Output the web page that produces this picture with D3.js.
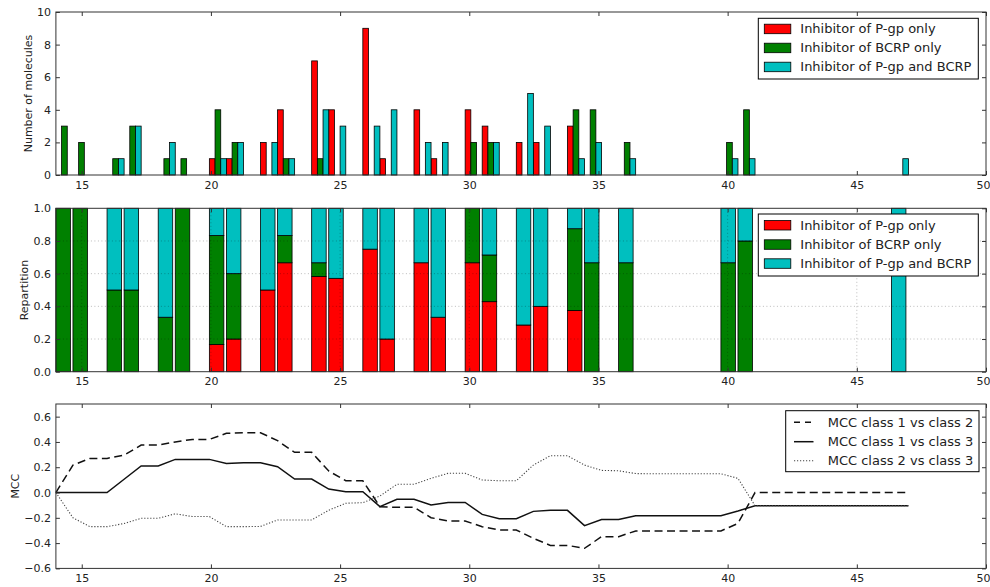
<!DOCTYPE html>
<html>
<head>
<meta charset="utf-8">
<script src="https://cdn.jsdelivr.net/npm/d3@7"></script>
<style>
  body { margin: 0; background: #fff; }
  text { font-family: "DejaVu Sans", sans-serif; fill: #222; }
</style>
</head>
<body>
<svg id="chart" width="990" height="587"></svg>
<script>
// Molecule sizes present in the set and counts per inhibitor class
const sizes      = [14, 15, 16, 17, 18, 19, 20, 21, 22, 23, 24, 25, 26, 27, 28, 29, 30, 31, 32, 33, 34, 35, 36, 40, 41, 47];
const pgpOnly    = [ 0,  0,  0,  0,  0,  0,  1,  1,  2,  4,  7,  4,  9,  1,  4,  1,  4,  3,  2,  2,  3,  0,  0,  0,  0,  0];
const bcrpOnly   = [ 3,  2,  1,  3,  1,  1,  4,  2,  0,  1,  1,  0,  0,  0,  0,  0,  2,  2,  0,  0,  4,  4,  2,  2,  4,  0];
const pgpAndBcrp = [ 0,  0,  1,  3,  2,  0,  1,  2,  2,  1,  4,  3,  3,  4,  2,  2,  0,  2,  5,  3,  1,  2,  1,  1,  1,  1];

const classNames  = ["Inhibitor of P-gp only", "Inhibitor of BCRP only", "Inhibitor of P-gp and BCRP"];
const classColors = ["#ff0000", "#008000", "#00bfbf"];

// Histogram layout: 50 bins spanning the size range
const histMin = 14, histMax = 47, histBins = 50;

// MCC at each bin edge (51 thresholds)
const mcc12 = [0, 0.217, 0.27, 0.27, 0.296, 0.375, 0.375, 0.40, 0.42, 0.42,
  0.468, 0.473, 0.473, 0.41, 0.318, 0.318, 0.17, 0.093, 0.093, -0.112,
  -0.117, -0.117, -0.199, -0.225, -0.225, -0.27, -0.296, -0.296, -0.362, -0.418,
  -0.418, -0.441, -0.349, -0.349, -0.304, -0.304, -0.304, -0.304, -0.304, -0.304,
  -0.244, 0, 0, 0, 0, 0, 0, 0, 0, 0, 0];
const mcc13 = [0, 0, 0, 0, 0.105, 0.21, 0.21, 0.262, 0.262, 0.262,
  0.23, 0.235, 0.236, 0.204, 0.107, 0.107, 0.027, 0.006, 0.006, -0.112,
  -0.054, -0.054, -0.099, -0.078, -0.078, -0.173, -0.207, -0.207, -0.149, -0.141,
  -0.141, -0.262, -0.214, -0.214, -0.183, -0.183, -0.183, -0.183, -0.183, -0.183,
  -0.146, -0.104, -0.104, -0.104, -0.104, -0.104, -0.104, -0.104, -0.104, -0.104, -0.104];
const mcc23 = [0, -0.2, -0.27, -0.27, -0.245, -0.204, -0.204, -0.168, -0.19, -0.19,
  -0.27, -0.27, -0.268, -0.217, -0.217, -0.217, -0.14, -0.085, -0.08, -0.028,
  0.065, 0.065, 0.112, 0.152, 0.152, 0.099, 0.093, 0.093, 0.217, 0.291,
  0.291, 0.217, 0.175, 0.172, 0.15, 0.148, 0.148, 0.148, 0.148, 0.148,
  0.112, -0.104, -0.104, -0.104, -0.104, -0.104, -0.104, -0.104, -0.104, -0.104, -0.104];
const mccNames = ["MCC class 1 vs class 2", "MCC class 1 vs class 3", "MCC class 2 vs class 3"];

const xTicks     = [15, 20, 25, 30, 35, 40, 45, 50];
const countTicks = [0, 2, 4, 6, 8, 10];
const shareTicks = [0, 0.2, 0.4, 0.6, 0.8, 1.0];
const mccTicks   = [-0.6, -0.4, -0.2, 0, 0.2, 0.4, 0.6];

const svg = d3.select("#chart");
const left = 55.9, right = 986;
const x = d3.scaleLinear().domain([14, 50]).range([left, right]);

const binW = (histMax - histMin) / histBins;
const edges = d3.range(histBins + 1).map(i => histMin + i * binW);
const binOf = v => Math.min(histBins - 1, Math.floor((v - histMin) / binW + 1e-9));

const frameColor = "#333";

function panel(top, bottom, domain, ticks, fmt, label, labelX) {
  const y = d3.scaleLinear().domain(domain).range([bottom, top]);
  const g = svg.append("g");
  const plot = g.append("g");
  const over = g.append("g");
  const axes = g.append("g");

  const addAxis = (axis, tx, ty) => {
    const a = axes.append("g").attr("transform", `translate(${tx},${ty})`).call(axis);
    a.select(".domain").remove();
    a.selectAll(".tick line").attr("stroke", frameColor);
    a.selectAll("text").style("font-size", "11px").attr("fill", "#222");
    return a;
  };
  const bx = addAxis(d3.axisBottom(x).tickValues(xTicks).tickSize(-4).tickPadding(6).tickFormat(d3.format("d")), 0, bottom);
  // keep the last label inside the canvas edge
  bx.selectAll(".tick text").filter(d => d === 50).attr("dx", -3);
  addAxis(d3.axisTop(x).tickValues(xTicks).tickSize(-4).tickFormat(""), 0, top);
  addAxis(d3.axisLeft(y).tickValues(ticks).tickSize(-4).tickPadding(5).tickFormat(fmt), left, 0);
  addAxis(d3.axisRight(y).tickValues(ticks).tickSize(-4).tickFormat(""), right, 0);

  axes.append("rect")
    .attr("x", left).attr("y", top)
    .attr("width", right - left).attr("height", bottom - top)
    .attr("fill", "none").attr("stroke", frameColor).attr("stroke-width", 1);

  axes.append("text")
    .attr("transform", `translate(${labelX},${(top + bottom) / 2}) rotate(-90)`)
    .attr("text-anchor", "middle").attr("dy", "0.35em")
    .style("font-size", "11px")
    .text(label);

  return { y, plot, over, axes, top, bottom };
}

// ---- Panel 1: counts per class, grouped inside each size bin ----
const p1 = panel(12, 175, [0, 10], countTicks, d3.format("d"), "Number of molecules", 28);
const classSeries = [pgpOnly, bcrpOnly, pgpAndBcrp];
const subW = binW / 3;
classSeries.forEach((vals, j) => {
  p1.plot.append("g").selectAll("rect")
    .data(sizes.map((s, i) => ({ s, v: vals[i] })).filter(d => d.v > 0))
    .join("rect")
    .attr("x", d => x(edges[binOf(d.s)] + j * subW))
    .attr("width", x(subW) - x(0))
    .attr("y", d => p1.y(d.v))
    .attr("height", d => p1.y(0) - p1.y(d.v))
    .attr("fill", classColors[j])
    .attr("stroke", "#000").attr("stroke-width", 0.8);
});

function patchLegend(g, bx, by, bw, bh, rowY) {
  g.append("rect").attr("x", bx).attr("y", by).attr("width", bw).attr("height", bh)
    .attr("fill", "#fff").attr("stroke", "#000").attr("stroke-width", 1);
  classNames.forEach((name, j) => {
    g.append("rect").attr("x", bx + 6).attr("y", rowY[j] - 4.5).attr("width", 26.5).attr("height", 9.5)
      .attr("fill", classColors[j]).attr("stroke", "#000").attr("stroke-width", 0.8);
    g.append("text").attr("x", bx + 42).attr("y", rowY[j]).attr("dy", "0.35em")
      .style("font-size", "13px").text(name);
  });
}
patchLegend(p1.axes, 758.3, 18.3, 220, 60.7, [28.7, 47.7, 66.7]);

// ---- Panel 2: share of each class within a size bin ----
const p2 = panel(208.3, 371.7, [0, 1], shareTicks, d3.format(".1f"), "Repartition", 24);
const stackRows = sizes.map((s, i) => {
  const tot = pgpOnly[i] + bcrpOnly[i] + pgpAndBcrp[i];
  return { s, a: pgpOnly[i] / tot, b: bcrpOnly[i] / tot, c: pgpAndBcrp[i] / tot };
});
const stacked = d3.stack().keys(["a", "b", "c"])(stackRows);
const barW = binW * 0.85;
stacked.forEach((layer, j) => {
  p2.plot.append("g").selectAll("rect")
    .data(layer.filter(d => d[1] - d[0] > 0))
    .join("rect")
    .attr("x", d => x(edges[binOf(d.data.s)]))
    .attr("width", x(barW) - x(0))
    .attr("y", d => p2.y(d[1]))
    .attr("height", d => p2.y(d[0]) - p2.y(d[1]))
    .attr("fill", classColors[j])
    .attr("stroke", "#000").attr("stroke-width", 0.8);
});
// dotted grid drawn above the bars
xTicks.filter(t => t < 50).forEach(t => {
  p2.over.append("line").attr("x1", x(t)).attr("x2", x(t)).attr("y1", p2.top).attr("y2", p2.bottom)
    .attr("stroke", "#000").attr("stroke-opacity", 0.45).attr("stroke-width", 0.6).attr("stroke-dasharray", "1,2.5");
});
[0.2, 0.4, 0.6, 0.8].forEach(t => {
  p2.over.append("line").attr("x1", left).attr("x2", right).attr("y1", p2.y(t)).attr("y2", p2.y(t))
    .attr("stroke", "#000").attr("stroke-opacity", 0.45).attr("stroke-width", 0.6).attr("stroke-dasharray", "1,2.5");
});
patchLegend(p2.axes, 758.3, 214, 220, 62, [225, 244.3, 263.3]);

// ---- Panel 3: MCC against the size threshold ----
const p3 = panel(404, 568.4, [-0.6, 0.7], mccTicks, d3.format(".1f"), "MCC", 15);
const lineStyles = [
  { data: mcc12, dash: "8,4.5", width: 1.5, color: "#111" },
  { data: mcc13, dash: null,    width: 1.5, color: "#111" },
  { data: mcc23, dash: "1.2,1.8", width: 1.1, color: "#444" }
];
lineStyles.forEach(st => {
  const line = d3.line().x((d, k) => x(edges[k])).y(d => p3.y(d));
  p3.plot.append("path").datum(st.data).attr("d", line)
    .attr("fill", "none").attr("stroke", st.color).attr("stroke-width", st.width)
    .attr("stroke-dasharray", st.dash);
});
const lg = p3.axes.append("g");
lg.append("rect").attr("x", 785.7).attr("y", 410.7).attr("width", 193.3).attr("height", 61)
  .attr("fill", "#fff").attr("stroke", "#000").attr("stroke-width", 1);
[422.3, 441.7, 460.7].forEach((ry, j) => {
  const st = lineStyles[j];
  lg.append("line").attr("x1", 794).attr("x2", 813.5).attr("y1", ry).attr("y2", ry)
    .attr("stroke", st.color).attr("stroke-width", st.width)
    .attr("stroke-dasharray", j === 0 ? "6,5" : st.dash);
  lg.append("text").attr("x", 827.7).attr("y", ry).attr("dy", "0.35em")
    .style("font-size", "13px").text(mccNames[j]);
});
</script>
</body>
</html>
